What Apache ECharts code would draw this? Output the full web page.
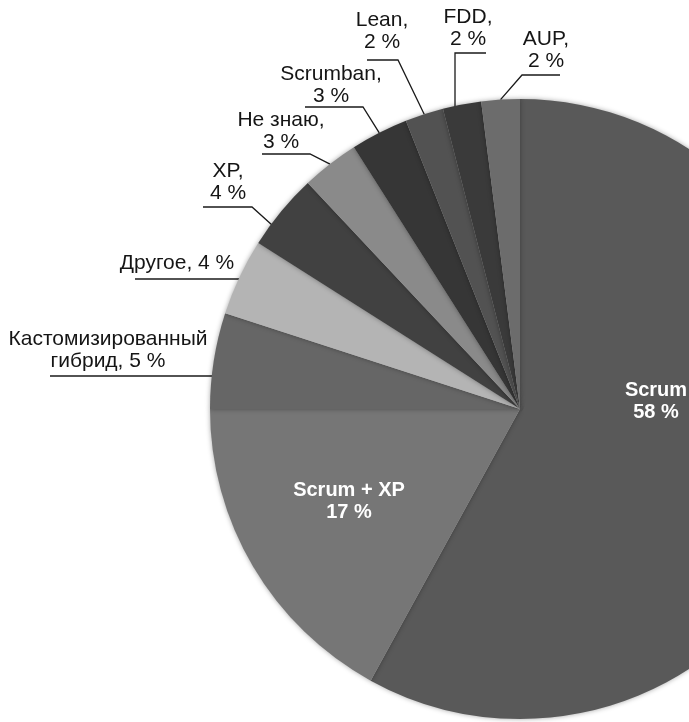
<!DOCTYPE html>
<html>
<head>
<meta charset="utf-8">
<script src="https://cdn.jsdelivr.net/npm/echarts@6/dist/echarts.min.js"></script>
<style>
html,body{margin:0;padding:0;background:#fff;}
#chart{width:689px;height:722px;}
</style>
</head>
<body>
<div id="chart"></div>
<script>
// ---- data ----
var categories = ['Scrum', 'Scrum + XP', 'Кастомизированный гибрид', 'Другое', 'XP', 'Не знаю', 'Scrumban', 'Lean', 'FDD', 'AUP'];
var values = [58, 17, 5, 4, 4, 3, 3, 2, 2, 2];

// ---- style / layout ----
var colors = ['#595959', '#767676', '#666666', '#b4b4b4', '#414141', '#8a8a8a', '#363636', '#525252', '#3a3a3a', '#6c6c6c'];
var insideIdx = [0, 1];
// label anchor (center x, bottom/center y) and leader line points
var labelPos = {
  0: {x: 656, y: 401},
  1: {x: 349, y: 501},
  2: {x: 108, y: 372, pts: [[212, 376], [50, 376]]},
  3: {x: 177, y: 274, pts: [[240, 279], [135, 279]]},
  4: {x: 228, y: 204, pts: [[272, 225], [252, 207], [203, 207]]},
  5: {x: 281, y: 153, edge: true, pts: [[310, 154], [262, 154]]},
  6: {x: 331, y: 107, edge: true, pts: [[363, 107], [305, 107]]},
  7: {x: 382, y: 53, edge: true, pts: [[398, 60], [367, 60]]},
  8: {x: 468, y: 50, pts: [[455, 108], [455, 53], [486, 53]]},
  9: {x: 546, y: 72, edge: true, pts: [[522, 75], [560, 75]]}
};

function labelText(i) {
  var n = categories[i], v = values[i];
  if (insideIdx.indexOf(i) >= 0) return n + '\n' + v + ' %';
  if (i === 2) return n.replace(' ', '\n') + ', ' + v + ' %';
  if (i === 3) return n + ', ' + v + ' %';
  return n + ',\n' + v + ' %';
}

var seriesData = categories.map(function (c, i) {
  var inside = insideIdx.indexOf(i) >= 0;
  return {
    name: c,
    value: values[i],
    itemStyle: {color: colors[i]},
    label: inside ? {
      position: 'inside',
      color: '#ffffff',
      fontWeight: 'bold',
      fontSize: 20,
      lineHeight: 22
    } : {
      position: 'outside',
      color: '#151515',
      fontSize: 21,
      lineHeight: 22
    },
    labelLine: {show: !inside}
  };
});

var chart = echarts.init(document.getElementById('chart'), null, {renderer: 'canvas'});
chart.setOption({
  animation: false,
  backgroundColor: '#ffffff',
  series: [{
    type: 'pie',
    center: [520, 409],
    radius: 310,
    startAngle: 90,
    clockwise: true,
    avoidLabelOverlap: false,
    data: seriesData,
    itemStyle: {
      borderWidth: 0,
      shadowBlur: 5,
      shadowColor: 'rgba(0,0,0,0.35)'
    },
    label: {
      show: true,
      fontFamily: '"Liberation Sans", Arial, sans-serif',
      formatter: function (p) { return labelText(p.dataIndex); }
    },
    labelLine: {
      lineStyle: {color: '#1a1a1a', width: 1.3}
    },
    labelLayout: function (p) {
      var L = labelPos[p.dataIndex];
      if (!L) return {};
      if (!L.pts) {
        return {x: L.x, y: L.y, align: 'center', verticalAlign: 'middle'};
      }
      var pts = L.pts.slice();
      if (L.edge && p.labelLinePoints) pts = [p.labelLinePoints[0]].concat(pts);
      return {
        x: L.x,
        y: L.y,
        align: 'center',
        verticalAlign: 'bottom',
        labelLinePoints: pts
      };
    }
  }]
});
</script>
</body>
</html>
